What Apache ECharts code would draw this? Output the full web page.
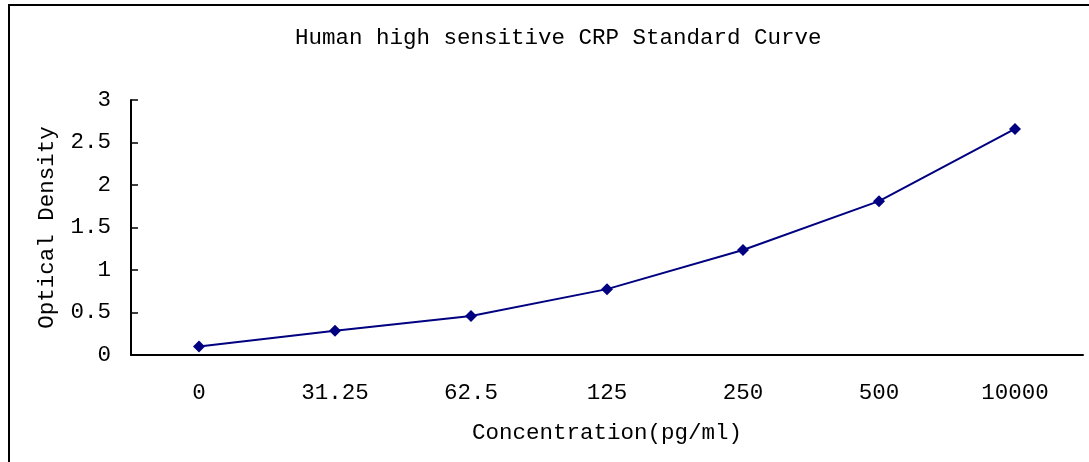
<!DOCTYPE html>
<html>
<head>
<meta charset="utf-8">
<script src="https://cdn.jsdelivr.net/npm/echarts@6/dist/echarts.min.js"></script>
<style>
  html, body { margin: 0; padding: 0; background: #fff; }
  #chart { width: 1089px; height: 462px; }
</style>
</head>
<body>
<div id="chart"></div>
<script>
// concentration levels (pg/ml) and measured OD
const concentrations = ['0', '31.25', '62.5', '125', '250', '500', '10000'];
const opticalDensity = [0.1, 0.285, 0.46, 0.775, 1.235, 1.81, 2.66];

const FONT = '"Liberation Mono", "DejaVu Sans Mono", monospace';
const TXT = { fontFamily: FONT, fontSize: 22.5, color: '#000' };

const chart = echarts.init(document.getElementById('chart'));

chart.setOption({
  animation: false,
  backgroundColor: '#fff',
  title: {
    text: 'Human high sensitive CRP Standard Curve',
    left: 290,
    top: 22,
    textStyle: Object.assign({ fontWeight: 'normal' }, TXT),
  },
  graphic: [
    {
      type: 'rect',
      shape: { x: 9, y: 5, width: 1200, height: 600 },
      style: { fill: 'none', stroke: '#000', lineWidth: 2 },
      silent: true,
    },
  ],
  grid: { left: 131, right: 6, top: 100, bottom: 107, containLabel: false },
  xAxis: {
    type: 'category',
    data: concentrations,
    boundaryGap: true,
    name: 'Concentration(pg/ml)',
    nameLocation: 'middle',
    nameGap: 67,
    nameTextStyle: TXT,
    axisLine: { lineStyle: { color: '#000', width: 2 } },
    axisTick: { inside: true, length: 7, lineStyle: { color: '#000', width: 1.5 } },
    axisLabel: Object.assign({ margin: 27 }, TXT),
    splitLine: { show: false },
  },
  yAxis: {
    type: 'value',
    min: 0,
    max: 3,
    interval: 0.5,
    name: 'Optical Density',
    nameLocation: 'middle',
    nameGap: 72,
    nameRotate: 90,
    nameTextStyle: TXT,
    axisLine: { show: true, lineStyle: { color: '#000', width: 2 } },
    axisTick: { show: true, inside: true, length: 7, lineStyle: { color: '#000', width: 1.5 } },
    axisLabel: Object.assign({ margin: 20 }, TXT),
    splitLine: { show: false },
  },
  series: [
    {
      type: 'line',
      data: opticalDensity,
      symbol: 'diamond',
      symbolSize: 12,
      itemStyle: { color: '#000080' },
      lineStyle: { color: '#000080', width: 2 },
    },
  ],
});
</script>
</body>
</html>
